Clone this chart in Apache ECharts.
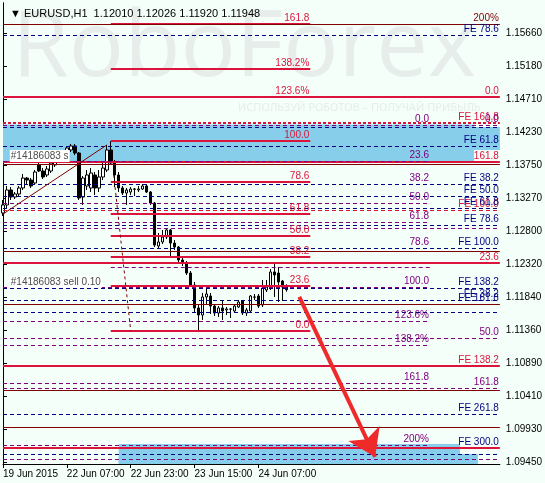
<!DOCTYPE html>
<html>
<head>
<meta charset="utf-8">
<script src="https://cdn.jsdelivr.net/npm/echarts@6/dist/echarts.min.js"></script>
<style>
  html, body { margin: 0; padding: 0; background: #f5fffa; }
  #chart { width: 545px; height: 483px; }
</style>
</head>
<body>
<div id="chart"></div>
<script>
// x axis: bar index (H1) -> time label
const tickBars = [0, 16, 32, 48, 64]
const tickLabels = ['19 Jun 2015', '22 Jun 07:00', '22 Jun 23:00', '23 Jun 15:00', '24 Jun 07:00']
const priceTicks = [1.15660, 1.15180, 1.14710, 1.14230, 1.13750, 1.13270, 1.12800, 1.12320, 1.11840, 1.11360, 1.10890, 1.10410, 1.09930, 1.09450]

// EURUSD H1 candles
const opens = [1.13059, 1.13175, 1.13392, 1.13290, 1.13334, 1.13421, 1.13565, 1.13536, 1.13493, 1.13754,
  1.13667, 1.13609, 1.13667, 1.13754, 1.13811, 1.13826, 1.13826, 1.13971, 1.14029, 1.13927,
  1.13290, 1.13450, 1.13421, 1.13609, 1.13421, 1.13580, 1.13681, 1.13971, 1.13782, 1.13609,
  1.13421, 1.13348, 1.13363, 1.13406, 1.13392, 1.13406, 1.13450, 1.13363, 1.13203, 1.12581,
  1.12639, 1.12711, 1.12813, 1.12624, 1.12566, 1.12378, 1.12335, 1.12190, 1.12016, 1.11684,
  1.11582, 1.11843, 1.11857, 1.11712, 1.11611, 1.11684, 1.11655, 1.11669, 1.11640, 1.11698,
  1.11785, 1.11611, 1.11640, 1.11843, 1.11857, 1.11727, 1.11944, 1.11973, 1.12205, 1.12190,
  1.12074, 1.12010]
const closes = [1.13175, 1.13392, 1.13290, 1.13334, 1.13421, 1.13565, 1.13536, 1.13450, 1.13652, 1.13667,
  1.13580, 1.13696, 1.13782, 1.13826, 1.13884, 1.13898, 1.14000, 1.14029, 1.13927, 1.13276,
  1.13565, 1.13609, 1.13638, 1.13421, 1.13580, 1.13710, 1.13971, 1.13782, 1.13609, 1.13421,
  1.13348, 1.13392, 1.13406, 1.13403, 1.13406, 1.13450, 1.13363, 1.13203, 1.12595, 1.12639,
  1.12711, 1.12813, 1.12624, 1.12566, 1.12378, 1.12335, 1.12190, 1.12016, 1.11684, 1.11582,
  1.11843, 1.11886, 1.11712, 1.11611, 1.11684, 1.11640, 1.11669, 1.11667, 1.11712, 1.11770,
  1.11611, 1.11655, 1.11857, 1.11840, 1.11712, 1.11973, 1.11987, 1.12205, 1.12161, 1.12060,
  1.11987, 1.11948]
const lows = [1.13015, 1.13131, 1.13247, 1.13261, 1.13305, 1.13392, 1.13479, 1.13421, 1.13464, 1.13652,
  1.13551, 1.13580, 1.13638, 1.13725, 1.13797, 1.13797, 1.13797, 1.13942, 1.13898, 1.13247,
  1.13175, 1.13392, 1.13363, 1.13319, 1.13363, 1.13536, 1.13652, 1.13754, 1.13435, 1.13363,
  1.13319, 1.13175, 1.13319, 1.13305, 1.13363, 1.13392, 1.13348, 1.13175, 1.12566, 1.12552,
  1.12610, 1.12682, 1.12407, 1.12523, 1.12349, 1.12291, 1.12161, 1.11987, 1.11611, 1.11336,
  1.11510, 1.11727, 1.11597, 1.11568, 1.11553, 1.11510, 1.11582, 1.11539, 1.11626, 1.11684,
  1.11582, 1.11568, 1.11611, 1.11799, 1.11684, 1.11698, 1.11915, 1.11944, 1.11843, 1.11770,
  1.11785, 1.11920]
const highs = [1.13247, 1.13450, 1.13435, 1.13363, 1.13450, 1.13623, 1.13580, 1.13565, 1.13681, 1.13797,
  1.13710, 1.13739, 1.13826, 1.13869, 1.13913, 1.13942, 1.14029, 1.14058, 1.14058, 1.13942,
  1.13594, 1.13681, 1.13710, 1.13652, 1.13681, 1.13797, 1.14043, 1.14101, 1.13826, 1.13652,
  1.13450, 1.13421, 1.13435, 1.13421, 1.13450, 1.13479, 1.13464, 1.13377, 1.13218, 1.12769,
  1.12813, 1.12842, 1.12827, 1.12668, 1.12581, 1.12407, 1.12364, 1.12219, 1.12060, 1.11727,
  1.11901, 1.11959, 1.11901, 1.11741, 1.11712, 1.11799, 1.11698, 1.11684, 1.11741, 1.11799,
  1.11799, 1.11684, 1.11872, 1.11886, 1.11886, 1.12089, 1.12089, 1.12248, 1.12335, 1.12277,
  1.12089, 1.12026]
const lastPrice = 1.11948

// horizontal levels: [price, fromBar, toBar, line kind, label, label kind]
const levels = [
  // fibo retracement from the 22 Jun high
  [1.15795, 27, 77, 'fibo', '161.8', 'fibo'],
  [1.15143, 27, 77, 'fibo', '138.2%', 'fibo'],
  [1.14738, 27, 77, 'fibo', '123.6%', 'fibo'],
  [1.14101, 27, 77, 'fibo', '100.0', 'fibo'],
  [1.13508, 27, 77, 'fibo', '78.6', 'fibo'],
  [1.13044, 27, 77, 'fibo', '61.8', 'fibo'],
  [1.12726, 27, 77, 'fibo', '50.0', 'fibo'],
  [1.12422, 27, 77, 'fibo', '38.2', 'fibo'],
  [1.12002, 27, 77, 'fibo', '23.6', 'fibo'],
  [1.11351, 27, 77, 'fibo', '0.0', 'fibo'],
  // full width red
  [1.14738, 0, 124.5, 'fibo', '0.0', 'fibo'],
  [1.13797, 0, 124.5, 'fibo', '161.8', 'fibo'],
  [1.12335, 0, 124.5, 'fibo', '23.6', 'fibo'],
  [1.10844, 0, 124.5, 'fibo', 'FE 138.2', 'fibo'],
  [1.09657, 0, 124.5, 'fibo', 'FE 300.0', 'fe'],
  [1.14362, 0, 124.5, 'feRedBold', 'FE 161.8', 'fibo'],
  [1.13102, 0, 124.5, 'feRed', 'FE 100.0', 'fibo'],
  // purple retracement
  [1.14333, 0, 107, 'ret', '0.0', 'ret'],
  [1.13811, 0, 107, 'ret', '23.6', 'ret'],
  [1.13479, 0, 107, 'ret', '38.2', 'ret'],
  [1.13203, 0, 107, 'ret', '50.0', 'ret'],
  [1.12928, 0, 107, 'ret', '61.8', 'ret'],
  [1.12552, 0, 107, 'ret', '78.6', 'ret'],
  [1.12277, 27, 107, 'ret', '', ''],
  [1.11987, 0, 107, 'ret', '100.0', 'ret'],
  [1.11495, 0, 107, 'ret', '123.6%', 'ret'],
  [1.11148, 0, 107, 'ret', '138.2%', 'ret'],
  [1.10598, 0, 107, 'ret', '161.8', 'ret'],
  [1.09700, 0, 107, 'ret', '200%', 'ret'],
  [1.14333, 0, 124.5, 'ret', '0.0', 'ret'],
  [1.12842, 0, 124.5, 'ret', '', ''],
  [1.11249, 0, 124.5, 'ret', '50.0', 'ret'],
  [1.10525, 0, 124.5, 'ret', '161.8', 'ret'],
  [1.09498, 0, 124.5, 'ret', '', ''],
  // fibo expansion
  [1.15635, 0, 124.5, 'fe', 'FE 78.6', 'fe'],
  [1.14304, 0, 124.5, 'fe', '', ''],
  [1.14029, 0, 124.5, 'fe', 'FE 61.8', 'fe'],
  [1.13479, 0, 124.5, 'fe', 'FE 38.2', 'fe'],
  [1.13305, 0, 124.5, 'fe', 'FE 50.0', 'fe'],
  [1.13131, 0, 124.5, 'fe', 'FE 61.8', 'fe'],
  [1.12885, 0, 124.5, 'fe', 'FE 78.6', 'fe'],
  [1.12552, 0, 124.5, 'fe', 'FE 100.0', 'fe'],
  [1.11966, 0, 124.5, 'fe', 'FE 138.2', 'fe'],
  [1.11799, 0, 124.5, 'fe', 'FE 38.2', 'fe'],
  [1.11626, 0, 124.5, 'fe', '', ''],
  [1.10149, 0, 124.5, 'fe', 'FE 261.8', 'fe'],
  [1.09570, 0, 124.5, 'fe', '', ''],
  // thin dark red levels
  [1.15795, 0, 124.5, 'zone', '200%', 'zone'],
  [1.13768, 0, 124.5, 'zone', '', ''],
  [1.12509, 0, 124.5, 'zone', '', ''],
  [1.11741, 0, 124.5, 'zone', 'FE 161.8', 'fe'],
  [1.10496, 0, 124.5, 'zone', '', ''],
  [1.09961, 0, 124.5, 'zone', '', ''],
]

// rectangles: [fromBar, toBar, top, bottom]
const zones = [
  [0, 124.5, 1.14304, 1.13970],
  [0, 118, 1.14340, 1.13797],
  [29, 114.5, 1.09715, 1.09425],
  [29, 119, 1.09570, 1.09425],
]

// [fromBar, fromPrice, toBar, toPrice, kind]
const trendLines = [
  [0, 1.13044, 26, 1.14043, 'solid'],
  [27.75, 1.13609, 32, 1.11351, 'dashed'],
]
const arrow = [74.25, 1.11843, 93.25, 1.09527]

// order labels: [bar, price, text]
const orderLabels = [
  [1.7, 1.13884, '#14186083 s'],
  [1.7, 1.12060, '#14186083 sell 0.10'],
]

const lineStyles = {
  fibo: { color: '#dc143c', width: 2, type: 'solid' },
  feRedBold: { color: '#dc143c', width: 2, type: [3, 2] },
  feRed: { color: '#dc143c', width: 1, type: [4, 3] },
  ret: { color: '#800080', width: 1, type: [4, 3] },
  fe: { color: '#000080', width: 1, type: [4, 3] },
  zone: { color: '#800000', width: 1, type: 'solid' },
}
const textColors = { fibo: '#dc143c', ret: '#800080', fe: '#000080', zone: '#800000' }

const candles = opens.map((o, i) => [i, o, closes[i], lows[i], highs[i]])

const levelLines = levels.map(([price, from, to, kind, text, textKind]) => [
  {
    coord: [from, price],
    lineStyle: lineStyles[kind],
    label: text
      ? { show: true, formatter: text, position: 'insideEndTop', color: textColors[textKind], fontSize: 10, distance: [1, 1] }
      : { show: false },
  },
  { coord: [to, price] },
])

const trendData = trendLines.map(([x0, y0, x1, y1, kind]) => [
  { coord: [x0, y0], lineStyle: { color: '#800000', width: 1, type: kind === 'solid' ? 'solid' : [3, 3] } },
  { coord: [x1, y1] },
])

const chart = echarts.init(document.getElementById('chart'))

chart.setOption({
  animation: false,
  backgroundColor: '#f5fffa',
  textStyle: { fontFamily: 'Liberation Sans' },
  title: {
    text: '▼ EURUSD,H1  1.12010 1.12026 1.11920 1.11948',
    left: 5,
    top: 3,
    textStyle: { fontSize: 11, fontWeight: 'normal', color: '#000' },
  },
  graphic: [
    {
      type: 'text',
      left: 12,
      top: 4,
      z: 0,
      style: { text: 'RoboForex', font: '92px "Open Sans"', fill: '#e7edea' },
    },
    {
      type: 'text',
      left: 238,
      top: 102,
      z: 0,
      style: { text: 'ИСПОЛЬЗУЙ РОБОТОВ – ПОЛУЧАЙ ПРИБЫЛЬ', font: '11px "Noto Sans"', fill: '#e7edea' },
    },
  ],
  grid: { left: 3, right: 44, top: 3, bottom: 19 },
  xAxis: {
    type: 'value',
    min: 0,
    max: 124.5,
    splitLine: { show: false },
    axisLine: { show: true, lineStyle: { color: '#000' } },
    axisTick: { show: true, customValues: tickBars, length: 4, lineStyle: { color: '#000' } },
    axisLabel: {
      customValues: tickBars,
      formatter: v => tickLabels[tickBars.indexOf(v)],
      align: 'left',
      margin: 5,
      color: '#000',
      fontSize: 10,
    },
  },
  yAxis: [
    {
      type: 'value',
      position: 'right',
      min: 1.09425,
      max: 1.16099,
      splitLine: { show: false },
      axisLine: { show: true, lineStyle: { color: '#000' } },
      axisTick: { show: true, customValues: priceTicks, length: 4, lineStyle: { color: '#000' } },
      axisLabel: {
        customValues: priceTicks,
        formatter: v => v.toFixed(5),
        margin: 6,
        color: '#000',
        fontSize: 10,
      },
    },
    {
      type: 'value',
      position: 'left',
      splitLine: { show: false },
      axisLine: { show: true, lineStyle: { color: '#000' } },
      axisTick: { show: false },
      axisLabel: { show: false },
    },
  ],
  series: [
    {
      name: 'zones',
      type: 'line',
      data: [],
      z: 1,
      markArea: {
        silent: true,
        itemStyle: { color: '#87ceeb' },
        data: zones.map(([x0, x1, top, bottom]) => [{ coord: [x0, top] }, { coord: [x1, bottom] }]),
      },
    },
    {
      name: 'levels',
      type: 'line',
      data: [],
      z: 2,
      markLine: {
        silent: true,
        symbol: ['none', 'none'],
        data: levelLines.concat(trendData),
      },
      markPoint: {
        silent: true,
        symbol: 'rect',
        symbolSize: 0,
        data: orderLabels.map(([bar, price, text]) => ({
          coord: [bar, price],
          label: {
            show: true,
            position: 'right',
            distance: 0,
            formatter: text,
            color: '#4d4d4d',
            fontSize: 10,
            backgroundColor: '#ffffff',
            padding: [1, 1],
          },
        })),
      },
    },
    {
      name: 'EURUSD',
      type: 'candlestick',
      z: 3,
      barWidth: 3,
      dimensions: ['bar', 'open', 'close', 'lowest', 'highest'],
      encode: { x: 'bar', y: ['open', 'close', 'lowest', 'highest'] },
      data: candles,
      itemStyle: {
        color: '#ffffff',
        color0: '#000000',
        borderColor: '#000000',
        borderColor0: '#000000',
        borderWidth: 1,
      },
      markLine: {
        silent: true,
        symbol: ['none', 'none'],
        data: [[
          {
            coord: [71, lastPrice],
            lineStyle: { opacity: 0 },
            label: {
              show: true,
              position: 'end',
              distance: 2,
              formatter: lastPrice.toFixed(5),
              color: '#fff',
              backgroundColor: '#000',
              fontSize: 10,
              padding: [2, 3],
            },
          },
          { coord: [124.5, lastPrice] },
        ]],
      },
    },
    {
      name: 'arrow',
      type: 'line',
      data: [],
      z: 4,
      markLine: {
        silent: true,
        symbol: ['none', 'arrow'],
        symbolSize: 26,
        lineStyle: { color: '#ee2a2a', width: 4, type: 'solid' },
        label: { show: false },
        data: [[{ coord: [arrow[0], arrow[1]] }, { coord: [arrow[2], arrow[3]] }]],
      },
    },
  ],
})
</script>
</body>
</html>
